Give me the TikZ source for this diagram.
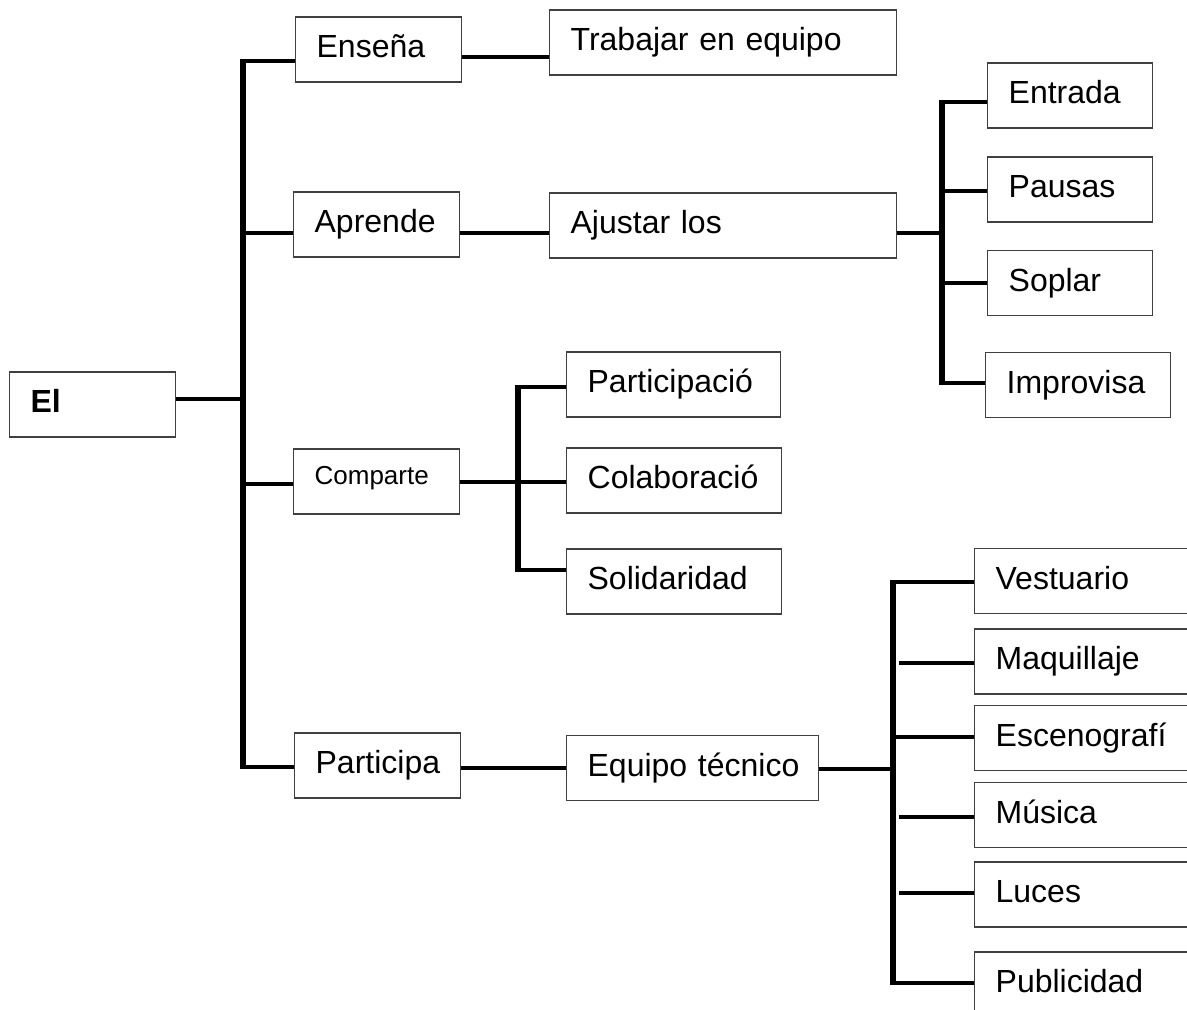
\documentclass[tikz,border=0pt]{standalone}
\usepackage{fontspec}
\setmainfont{Liberation Sans}
\usepackage{tikz}

\begin{document}
\begin{tikzpicture}[x=1pt,y=-1pt,
  box/.style={draw=black!75,line width=1.3pt,anchor=west,inner xsep=21pt,inner ysep=0pt,
    minimum height=65pt,text height=23pt,text depth=7pt,align=left,text width=#1,
    font=\fontsize{32}{38}\selectfont},
  box/.default=124pt,
  link/.style={line width=4pt},
  bar/.style={line width=6.3pt}]

\useasboundingbox (0,0) rectangle (1187,1010);
\clip (0,0) rectangle (1187,1010);

\node[box,font=\fontsize{32}{38}\selectfont\bfseries] (el) at (9,404.5) {El};

\node[box] (ensena) at (295,49.5) {Enseña};
\node[box] (aprende) at (293,224.5) {Aprende};
\node[box,font=\fontsize{26}{31}\selectfont,text height=15pt,text depth=10pt] (comparte) at (293,481.5) {Comparte};
\node[box] (participa) at (294,765.5) {Participa};

\node[box=305pt] (trabajar) at (549,42.5) {\mbox{Trabajar en equipo}};
\node[box=305pt] (ajustar) at (549,225.5) {\mbox{Ajustar los}};
\node[box=172pt] (participacion) at (566,384.5) {Participació};
\node[box=173pt] (colaboracion) at (566,480.5) {Colaboració};
\node[box=173pt] (solidaridad) at (566,581.5) {Solidaridad};
\node[box=210pt] (equipo) at (566,768) {\mbox{Equipo técnico}};

\node[box=123pt] (entrada) at (987,95.5) {Entrada};
\node[box=123pt] (pausas) at (987,189.5) {Pausas};
\node[box=123pt] (soplar) at (987,283) {Soplar};
\node[box=143pt] (improvisa) at (985,385) {Improvisa};

\node[box=180pt] (vestuario) at (974,581) {Vestuario};
\node[box=180pt] (maquillaje) at (974,661.5) {Maquillaje};
\node[box=180pt] (escenografia) at (974,738) {Escenografí};
\node[box=180pt] (musica) at (974,815) {Música};
\node[box=180pt] (luces) at (974,894.5) {Luces};
\node[box=180pt] (publicidad) at (974,984.5) {Publicidad};

\coordinate (m1) at (243,61);
\coordinate (m2) at (243,233);
\coordinate (m0) at (243,399);
\coordinate (m3) at (243,484);
\coordinate (m4) at (243,767);
\draw[bar] ([yshift=2pt]m1) -- ([yshift=-2pt]m4);
\draw[link] (el.east |- m0) -- (m0);
\foreach \j/\n in {m1/ensena,m2/aprende,m3/comparte,m4/participa}
  \draw[link] (\j) -- (\j -| \n.west);

\coordinate (t1) at (0,57);
\coordinate (t2) at (0,233);
\coordinate (t3) at (0,768);
\draw[link] (ensena.east |- t1) -- (trabajar.west |- t1);
\draw[link] (aprende.east |- t2) -- (ajustar.west |- t2);
\draw[link] (participa.east |- t3) -- (equipo.west |- t3);

\coordinate (a0) at (942,233);
\coordinate (a1) at (942,102);
\coordinate (a2) at (942,191);
\coordinate (a3) at (942,283);
\coordinate (a4) at (942,383);
\draw[link] (ajustar.east |- a0) -- (a0);
\draw[bar] ([yshift=2pt]a1) -- ([yshift=-2pt]a4);
\foreach \j/\n in {a1/entrada,a2/pausas,a3/soplar,a4/improvisa}
  \draw[link] (\j) -- (\j -| \n.west);

\coordinate (c0) at (518,482);
\coordinate (c1) at (518,387);
\coordinate (c3) at (518,570);
\draw[link] (comparte.east |- c0) -- (c0);
\draw[bar] ([yshift=2pt]c1) -- ([yshift=-2pt]c3);
\foreach \j/\n in {c1/participacion,c0/colaboracion,c3/solidaridad}
  \draw[link] (\j) -- (\j -| \n.west);

\coordinate (e0) at (893,769);
\coordinate (e1) at (893,582);
\coordinate (e2) at (893,663);
\coordinate (e3) at (893,737);
\coordinate (e4) at (893,817);
\coordinate (e5) at (893,893);
\coordinate (e6) at (893,983);
\draw[link] (equipo.east |- e0) -- (e0);
\draw[bar] ([yshift=2pt]e1) -- ([yshift=-2pt]e6);
\foreach \j/\n in {e1/vestuario,e3/escenografia,e6/publicidad}
  \draw[link] (\j) -- (\j -| \n.west);
\foreach \j/\n in {e2/maquillaje,e4/musica,e5/luces}
  \draw[link] ([xshift=6pt]\j) -- (\j -| \n.west);

\end{tikzpicture}
\end{document}
